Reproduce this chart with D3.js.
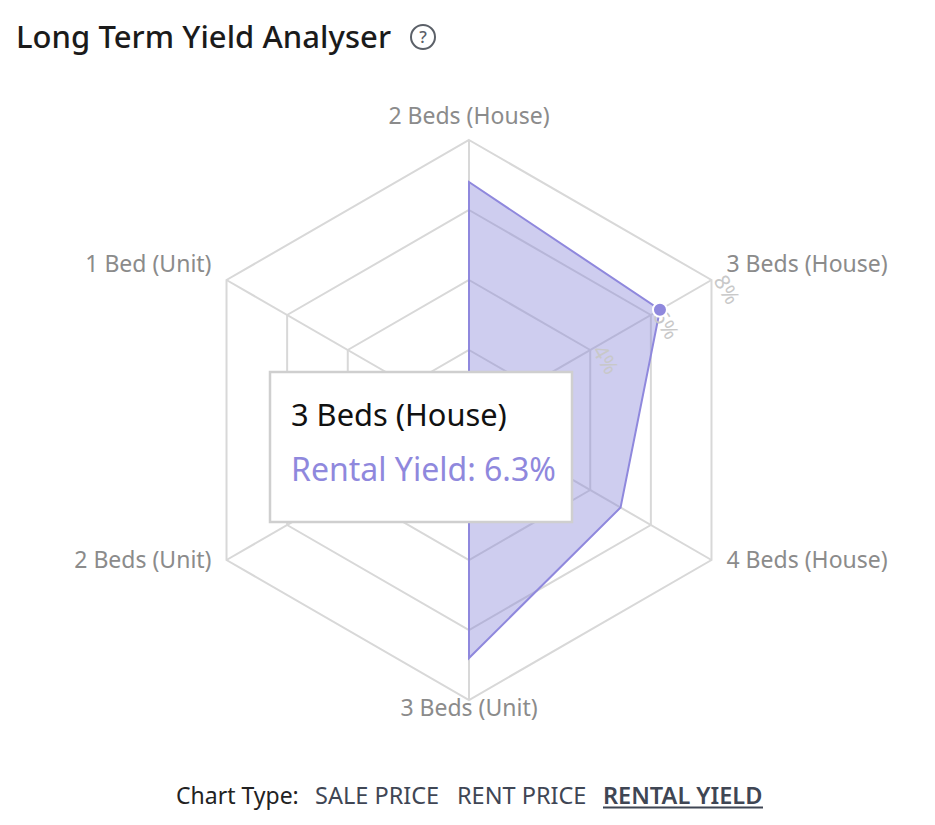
<!DOCTYPE html>
<html>
<head>
<meta charset="utf-8">
<title>Long Term Yield Analyser</title>
<script src="https://cdn.jsdelivr.net/npm/d3@7"></script>
<style>
  html, body { margin: 0; padding: 0; background: #fff; }
  svg { display: block; font-family: "Noto Sans", sans-serif; }
</style>
</head>
<body>
<svg id="radar" width="935" height="825"></svg>
<script>
// data
const categories = ["2 Beds (House)", "3 Beds (House)", "4 Beds (House)", "3 Beds (Unit)", "2 Beds (Unit)", "1 Bed (Unit)"];
const rentalYield = [6.8, 6.3, 5.0, 6.8, 0, 0];
const ticks = [2, 4, 6, 8];
const chartTypes = ["SALE PRICE", "RENT PRICE", "RENTAL YIELD"];
const activeIndex = 1; // the hovered category

const svg = d3.select("#radar");
const cx = 469, cy = 420;

const r = d3.scaleLinear().domain([0, 8]).range([0, 280]);
const angle = d3.scalePoint().domain(categories.concat("")).range([0, 2 * Math.PI]);

// polar -> cartesian, angle measured clockwise from the top
const px = (c, v) => r(v) * Math.sin(angle(c));
const py = (c, v) => -r(v) * Math.cos(angle(c));

const radial = d3.lineRadial()
    .curve(d3.curveLinearClosed)
    .angle(d => angle(d.cat))
    .radius(d => r(d.val));

// Title
svg.append("text")
    .attr("x", 16).attr("y", 48)
    .attr("font-size", 31).attr("font-weight", 500).attr("fill", "#1b1b1b")
    .attr("textLength", 375)
    .text("Long Term Yield Analyser");

const help = svg.append("g").attr("transform", "translate(423,37)");
help.append("circle").attr("r", 12).attr("fill", "none").attr("stroke", "#5b6068").attr("stroke-width", 2);
help.append("text").attr("y", 6).attr("text-anchor", "middle")
    .attr("font-size", 17).attr("font-weight", 500).attr("fill", "#5b6068").text("?");

const g = svg.append("g").attr("transform", `translate(${cx},${cy})`);

// Grid
g.selectAll(".ring")
    .data(ticks)
    .enter().append("path")
    .attr("class", "ring")
    .attr("d", t => radial(categories.map(c => ({ cat: c, val: t }))))
    .attr("fill", "none").attr("stroke", "#d8d8d8").attr("stroke-width", 2);

g.selectAll(".spoke")
    .data(categories)
    .enter().append("line")
    .attr("class", "spoke")
    .attr("x2", c => px(c, 8)).attr("y2", c => py(c, 8))
    .attr("stroke", "#d8d8d8").attr("stroke-width", 2);

// Series
g.append("path")
    .attr("d", radial(categories.map((c, i) => ({ cat: c, val: rentalYield[i] }))))
    .attr("fill", "#8a87d8").attr("fill-opacity", 0.42)
    .attr("stroke", "#8f88dd").attr("stroke-width", 2);

// Tick labels sit along the hovered spoke, turned with it
const tickSpoke = categories[activeIndex];
const tickRotation = angle(tickSpoke) * 180 / Math.PI;
g.selectAll(".tick-label")
    .data(ticks)
    .enter().append("text")
    .attr("class", "tick-label")
    .attr("transform", t => `translate(${px(tickSpoke, t) + 1.5},${py(tickSpoke, t) + 0.5}) rotate(${tickRotation})`)
    .attr("font-size", 21).attr("fill", "#c8c8c8")
    .text(t => t + "%");

g.append("circle")
    .attr("cx", px(tickSpoke, rentalYield[activeIndex]))
    .attr("cy", py(tickSpoke, rentalYield[activeIndex]))
    .attr("r", 7)
    .attr("fill", "#8f88dd").attr("stroke", "#fff").attr("stroke-width", 2);

// Category labels
g.selectAll(".cat-label")
    .data(categories)
    .enter().append("text")
    .attr("class", "cat-label")
    .attr("x", c => {
        const dx = px(c, 8);
        return Math.abs(dx) < 1 ? 0 : dx + (dx > 0 ? 15 : -15);
    })
    .attr("y", c => py(c, 8) * (1 + 16 / 280) - 8)
    .attr("dy", "0.35em")
    .attr("text-anchor", c => {
        const dx = px(c, 8);
        return Math.abs(dx) < 1 ? "middle" : dx > 0 ? "start" : "end";
    })
    .attr("font-size", 23).attr("fill", "#8b8b8b")
    .text(c => c);

// Tooltip
const tip = svg.append("g").attr("transform", "translate(270,372)");
tip.append("rect")
    .attr("width", 302).attr("height", 150)
    .attr("fill", "#fff").attr("stroke", "#cfcfcf").attr("stroke-width", 2.5);
tip.append("text")
    .attr("x", 21).attr("y", 54)
    .attr("font-size", 30.8).attr("fill", "#111")
    .text(categories[activeIndex]);
tip.append("text")
    .attr("x", 21).attr("y", 109)
    .attr("font-size", 32).attr("fill", "#8f88dd")
    .text(`Rental Yield: ${rentalYield[activeIndex]}%`);

// Chart type switch
const footer = svg.append("g");
footer.append("text").attr("x", 176).attr("y", 804).attr("font-size", 23).attr("fill", "#222").text("Chart Type:");
const typeX = d3.scaleOrdinal().domain(chartTypes).range([315, 457, 603]);
footer.selectAll(".type")
    .data(chartTypes)
    .enter().append("text")
    .attr("class", "type")
    .attr("x", d => typeX(d)).attr("y", 804)
    .attr("font-size", 23.5)
    .attr("fill", "#3f4654")
    .attr("font-weight", d => d === "RENTAL YIELD" ? 600 : 400)
    .text(d => d);
footer.append("line")
    .attr("x1", 603).attr("x2", 763).attr("y1", 807.5).attr("y2", 807.5)
    .attr("stroke", "#3f4654").attr("stroke-width", 2);
</script>
</body>
</html>
